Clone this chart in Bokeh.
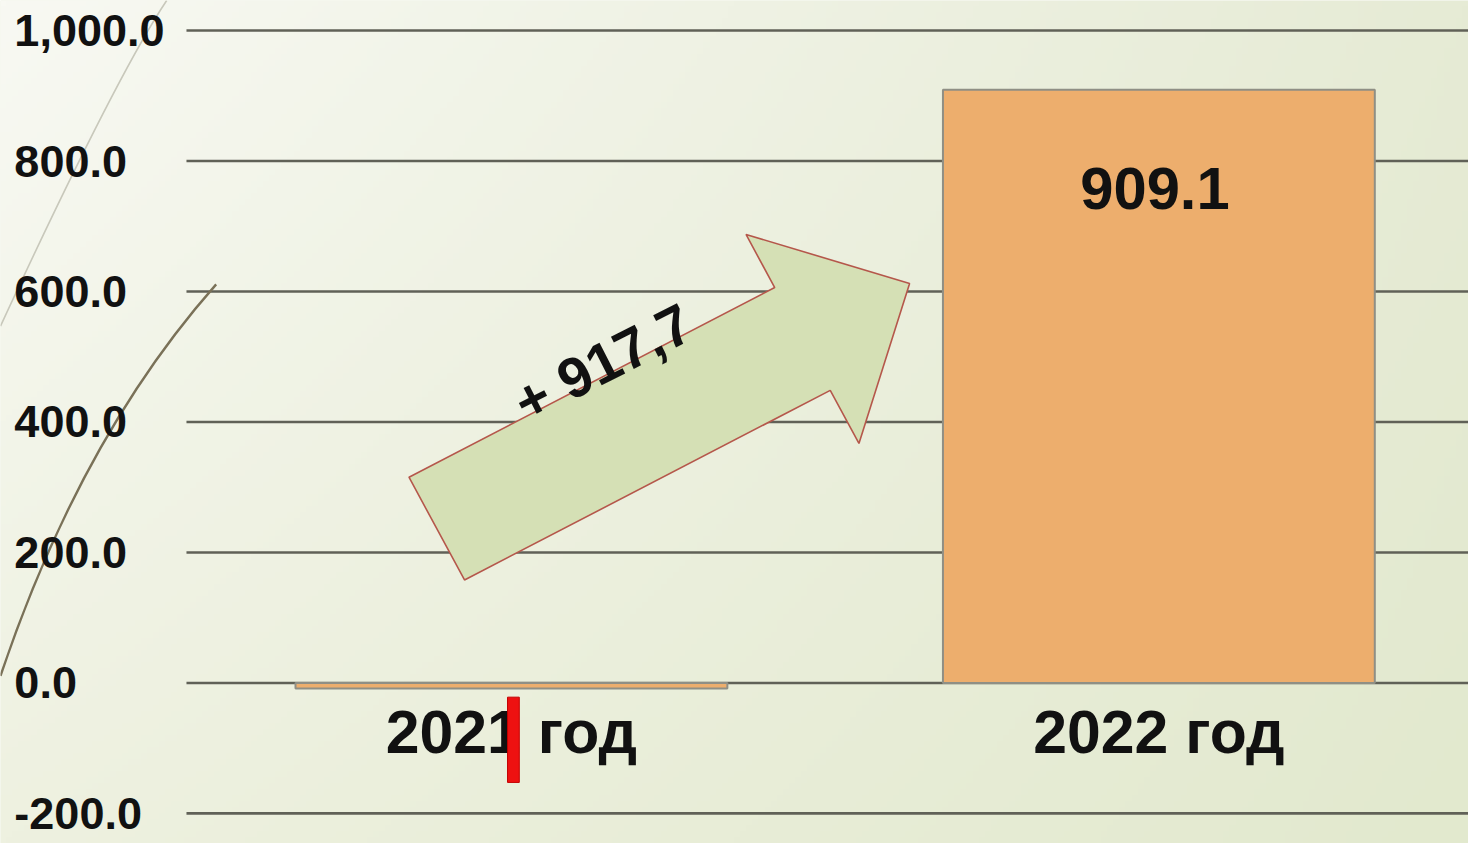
import numpy as np
from bokeh.plotting import figure
from bokeh.models import Range1d
from bokeh.core.properties import value
from bokeh.embed import file_html
from bokeh.resources import INLINE

# ---------------- data ----------------
categories = ["2021 год", "2022 год"]
values = [-8.6, 909.1]
value_labels = ["", "909.1"]
y_ticks = [-200, 0, 200, 400, 600, 800, 1000]
y_tick_labels = ["-200.0", "0.0", "200.0", "400.0", "600.0", "800.0", "1,000.0"]
change_label = "+ 917,7"
marker_low, marker_high = -152.5, -21.8

# ---------------- layout mapping (reference pixel space) ----------------
W, H = 1468, 843
REF_W, REF_H = 1484, 870     # reference area mapped onto the figure (a little room below)
C0, STEP = 516.5, 654.5      # centre of first category, category step (px)
Y0, PPU = 704.3, 0.6733      # pixel row of value 0, pixels per unit
K = (W / REF_W + H / REF_H) / 2   # overall scale for font sizes / screen widths


def X(px):
    return (px - C0) / STEP


def Y(py):
    return (Y0 - py) / PPU


def DX(px):
    return px / STEP


def DY(px):
    return px / PPU


def fs(px):
    return f"{px * K:.1f}px"


FONT = value("Liberation Sans")
xs = list(range(len(categories)))

p = figure(width=W, height=H,
           x_range=Range1d(X(0), X(REF_W)),
           y_range=Range1d(Y(REF_H), Y(0)),
           x_axis_type=None, y_axis_type=None,
           toolbar_location=None, output_backend="svg", min_border=0)
p.outline_line_color = None
p.background_fill_color = "#eef1e2"
p.border_fill_color = "#eef1e2"

# ---------------- background gradient ----------------
def rgb(h):
    h = h.lstrip("#")
    return np.array([int(h[i:i + 2], 16) for i in (0, 2, 4)], dtype=float)


TL, TR, BL, BR = rgb("#f8f9f3"), rgb("#e6ebd5"), rgb("#eef1e0"), rgb("#e2e9ce")
nx, ny = 240, 140
u = np.linspace(0, 1, nx)[None, :, None]
v = np.linspace(1, 0, ny)[:, None, None]
col = TL * (1 - u) * (1 - v) + TR * u * (1 - v) + BL * (1 - u) * v + BR * u * v
img = np.empty((ny, nx), dtype=np.uint32)
view = img.view(dtype=np.uint8).reshape((ny, nx, 4))
view[:, :, 0:3] = np.clip(col, 0, 255).astype(np.uint8)
view[:, :, 3] = 255
p.image_rgba(image=[img], x=X(0), y=Y(REF_H), dw=DX(REF_W), dh=DY(REF_H))

# ---------------- grid lines ----------------
n = len(y_ticks)
p.segment(x0=[X(188)] * n, y0=y_ticks, x1=[X(REF_W)] * n, y1=y_ticks,
          line_color="#606157", line_width=2.6)

# ---------------- decorative curves (slide template) ----------------
p.quadratic(x0=[X(168)], y0=[Y(0)], cx=[X(117)], cy=[Y(78)], x1=[X(0)], y1=[Y(336)],
            line_color="#c8c8bb", line_width=1.6)
p.quadratic(x0=[X(218)], y0=[Y(293)], cx=[X(81)], cy=[Y(451)], x1=[X(0)], y1=[Y(697)],
            line_color="#7a7158", line_width=2.4)

# ---------------- bars ----------------
p.vbar(x=xs, top=values, bottom=0, width=0.667,
       fill_color="#edae6d", line_color="#8f8f85", line_width=2)

# ---------------- change arrow ----------------
tail = np.array([441.0, 545.0])
tip = np.array([919.0, 292.0])
shaft_w, head_w, head_len = 120.0, 244.0, 122.5
d = (tip - tail) / np.linalg.norm(tip - tail)
nrm = np.array([-d[1], d[0]])
base = tip - d * head_len
pts = [tail + nrm * shaft_w / 2, base + nrm * shaft_w / 2, base + nrm * head_w / 2, tip,
       base - nrm * head_w / 2, base - nrm * shaft_w / 2, tail - nrm * shaft_w / 2]
p.patch(x=[X(q[0]) for q in pts], y=[Y(q[1]) for q in pts],
        fill_color="#d5e0b5", line_color="#b5574b", line_width=1.6)

p.text(x=[X(609)], y=[Y(374)], text=[change_label], angle=np.deg2rad(27),
       text_align="center", text_baseline="middle", text_font=FONT,
       text_font_style="bold", text_font_size=fs(58), text_color="#111111")

# ---------------- texts ----------------
p.text(x=[X(14)] * n, y=y_ticks, text=y_tick_labels, text_align="left",
       text_baseline="middle", text_font=FONT, text_font_style="bold",
       text_font_size=fs(46), text_color="#111111")

p.text(x=xs, y=[Y(754.5)] * len(xs), text=categories, text_align="center",
       text_baseline="middle", text_font=FONT, text_font_style="bold",
       text_font_size=fs(62), text_color="#111111")

p.text(x=[xi - DX(4) for xi in xs], y=[vv - DY(102) for vv in values], text=value_labels,
       text_align="center", text_baseline="middle", text_font=FONT,
       text_font_style="bold", text_font_size=fs(61), text_color="#111111")

# ---------------- red marker under 2021 ----------------
p.rect(x=[xs[0] + DX(2)], y=[(marker_low + marker_high) / 2], width=12 * K, width_units="screen",
       height=marker_high - marker_low, fill_color="#ee1111", line_color="#c40000", line_width=1)

open("out.html", "w").write(file_html(p, INLINE))
